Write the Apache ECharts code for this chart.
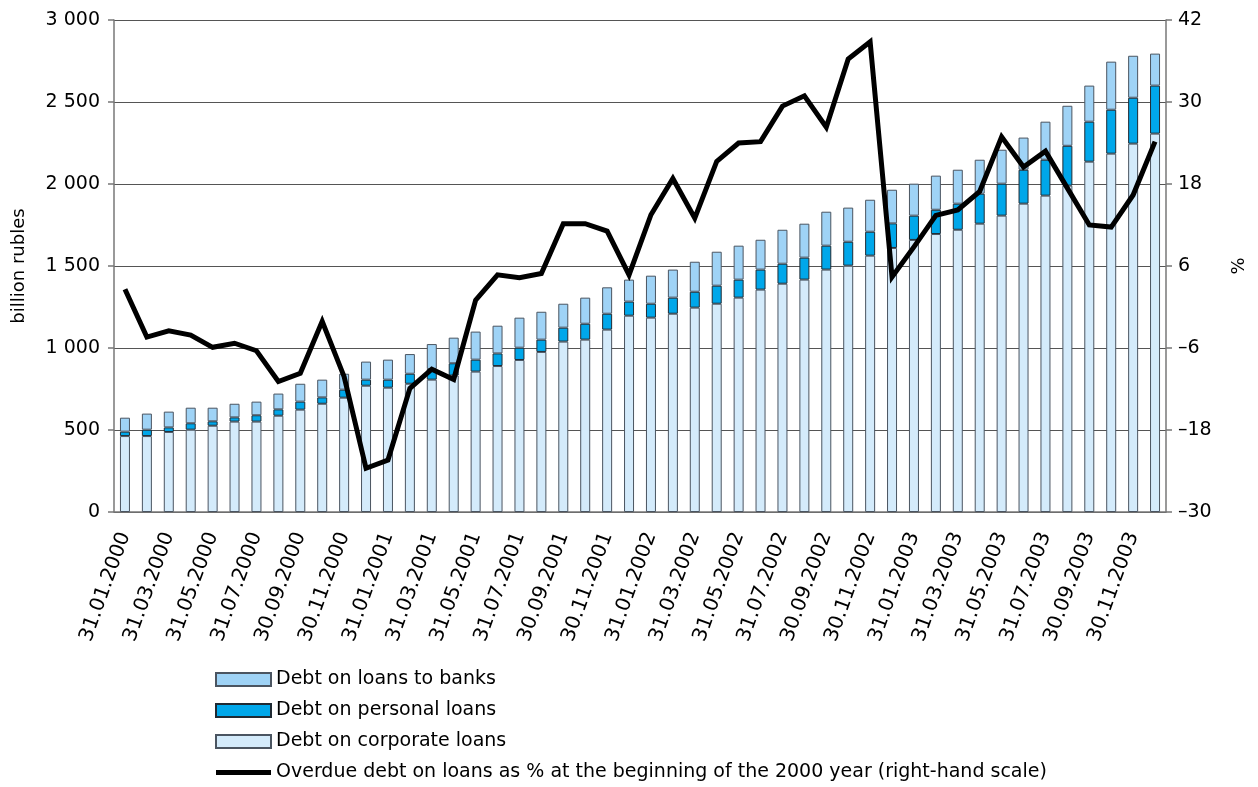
<!DOCTYPE html>
<html>
<head>
<meta charset="utf-8">
<script src="https://cdn.jsdelivr.net/npm/echarts@6/dist/echarts.min.js"></script>
<style>
  html, body { margin: 0; padding: 0; background: #fff; }
  #main { width: 1258px; height: 787px; }
</style>
</head>
<body>
<div id="main"></div>
<script>
// month-end dates, Jan 2000 .. Dec 2003
var dates = [
  '31.01.2000','29.02.2000','31.03.2000','30.04.2000','31.05.2000','30.06.2000',
  '31.07.2000','31.08.2000','30.09.2000','31.10.2000','30.11.2000','31.12.2000',
  '31.01.2001','28.02.2001','31.03.2001','30.04.2001','31.05.2001','30.06.2001',
  '31.07.2001','31.08.2001','30.09.2001','31.10.2001','30.11.2001','31.12.2001',
  '31.01.2002','28.02.2002','31.03.2002','30.04.2002','31.05.2002','30.06.2002',
  '31.07.2002','31.08.2002','30.09.2002','31.10.2002','30.11.2002','31.12.2002',
  '31.01.2003','28.02.2003','31.03.2003','30.04.2003','31.05.2003','30.06.2003',
  '31.07.2003','31.08.2003','30.09.2003','31.10.2003','30.11.2003','31.12.2003'
];

// billion rubles
var corporateLoans = [
  463, 463, 488, 502, 526, 551, 551, 587, 624, 660, 697, 770,
  758, 782, 807, 832, 856, 890, 927, 976, 1039, 1051, 1112, 1197,
  1185, 1209, 1246, 1270, 1307, 1356, 1392, 1417, 1478, 1502, 1563, 1610,
  1659, 1695, 1721, 1758, 1807, 1880, 1929, 1990, 2136, 2185, 2246, 2307
];
var personalLoans = [
  27, 39, 28, 39, 27, 26, 39, 39, 49, 39, 49, 37,
  49, 61, 65, 75, 73, 77, 75, 75, 85, 97, 97, 86,
  85, 98, 97, 110, 110, 122, 122, 134, 146, 146, 146, 150,
  148, 148, 159, 183, 195, 207, 219, 243, 244, 268, 280, 293
];
var bankLoans = [
  85, 98, 96, 95, 83, 83, 83, 96, 109, 108, 97, 110,
  122, 120, 152, 156, 171, 169, 183, 170, 146, 159, 161, 134,
  171, 171, 183, 207, 207, 182, 207, 207, 207, 208, 195, 205,
  195, 208, 207, 207, 207, 196, 232, 244, 220, 293, 256, 195
];
// overdue debt, % change from the beginning of 2000 (right-hand scale)
var overdueDebt = [
  2.6, -4.4, -3.5, -4.1, -5.9, -5.3, -6.4, -10.9, -9.7, -2.1, -10.2, -23.6,
  -22.4, -11.9, -9.1, -10.6, 1.0, 4.7, 4.3, 4.9, 12.2, 12.2, 11.1, 4.7,
  13.5, 18.8, 13.0, 21.3, 24.0, 24.2, 29.4, 30.9, 26.3, 36.3, 38.8, 4.4,
  8.8, 13.4, 14.2, 16.9, 24.9, 20.5, 22.8, 17.4, 12.0, 11.7, 16.4, 24.2
];

var font = 'DejaVu Sans';
var lineName = 'Overdue debt on loans as % at the beginning of the 2000 year (right-hand scale)';
var chart = echarts.init(document.getElementById('main'));

var barBorder = { borderColor: '#4b5561', borderWidth: 1 };

chart.setOption({
  animation: false,
  textStyle: { fontFamily: font, color: '#000' },
  grid: { left: 114, right: 92, top: 20, bottom: 275 },
  legend: {
    orient: 'vertical',
    left: 215,
    top: 670,
    padding: 0,
    itemWidth: 55,
    itemHeight: 13,
    itemGap: 12,
    textStyle: { fontFamily: font, fontSize: 19, color: '#000' },
    data: [
      { name: 'Debt on loans to banks', icon: 'rect' },
      { name: 'Debt on personal loans', icon: 'rect' },
      { name: 'Debt on corporate loans', icon: 'rect' },
      { name: lineName, icon: 'path://M0,0H55V5H0Z' }
    ]
  },
  xAxis: {
    type: 'category',
    data: dates,
    axisLine: { lineStyle: { color: '#777', width: 1.5 } },
    axisTick: { interval: 0, length: 6, lineStyle: { color: '#777', width: 1.5 } },
    axisLabel: {
      interval: 1,
      rotate: 70,
      margin: 21,
      fontSize: 20,
      fontFamily: font,
      color: '#000'
    }
  },
  yAxis: [
    {
      type: 'value',
      min: 0, max: 3000, interval: 500,
      name: 'billion rubles',
      nameLocation: 'middle',
      nameRotate: 90,
      nameGap: 86,
      nameTextStyle: { fontFamily: font, fontSize: 18, color: '#000' },
      axisLine: { show: true, lineStyle: { color: '#777', width: 1.5 } },
      axisTick: { show: true, length: 6, lineStyle: { color: '#777', width: 1.5 } },
      axisLabel: {
        fontSize: 19, color: '#000', margin: 14,
        formatter: function (v) { return String(v).replace(/\B(?=(\d{3})+$)/g, ' '); }
      },
      splitLine: { lineStyle: { color: '#555', width: 1 } }
    },
    {
      type: 'value',
      min: -30, max: 42, interval: 12,
      name: '%',
      nameLocation: 'middle',
      nameRotate: 90,
      nameGap: 64,
      nameTextStyle: { fontFamily: font, fontSize: 18, color: '#000' },
      axisLine: { show: true, lineStyle: { color: '#777', width: 1.5 } },
      axisTick: { show: true, length: 6, lineStyle: { color: '#777', width: 1.5 } },
      axisLabel: {
        fontSize: 19, color: '#000', margin: 12,
        formatter: function (v) { return v < 0 ? '\u2013' + Math.abs(v) : String(v); }
      },
      splitLine: { show: false }
    }
  ],
  series: [
    {
      name: 'Debt on corporate loans',
      type: 'bar', stack: 'debt', barWidth: 10,
      itemStyle: Object.assign({ color: '#d4ebfb' }, barBorder),
      data: corporateLoans
    },
    {
      name: 'Debt on personal loans',
      type: 'bar', stack: 'debt', barWidth: 10,
      itemStyle: { color: '#00a7ea', borderColor: '#1f2a33', borderWidth: 1 },
      data: personalLoans
    },
    {
      name: 'Debt on loans to banks',
      type: 'bar', stack: 'debt', barWidth: 10,
      itemStyle: Object.assign({ color: '#9fd3f6' }, barBorder),
      data: bankLoans
    },
    {
      name: lineName,
      type: 'line',
      yAxisIndex: 1,
      symbol: 'none',
      z: 5,
      lineStyle: { color: '#000', width: 5, join: 'miter' },
      itemStyle: { color: '#000' },
      data: overdueDebt
    }
  ]
});
</script>
</body>
</html>
